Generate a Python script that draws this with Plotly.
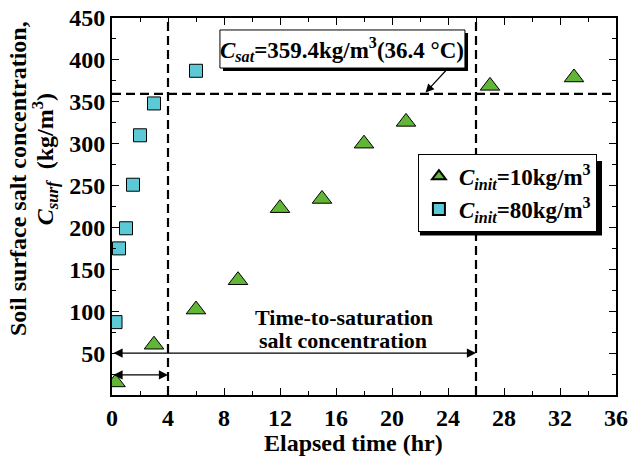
import plotly.graph_objects as go

# Data
t_init10 = [0.25, 3, 6, 9, 12, 15, 18, 21, 27, 33]
c_init10 = [15, 60, 102, 137, 223, 234, 300, 326, 369, 379]
t_init80 = [0.25, 0.5, 1.0, 1.5, 2.0, 3.0, 6.0]
c_init80 = [87, 175, 199, 251, 310, 348, 387]
c_sat = 359.4
t_sat_80 = 4
t_sat_10 = 26
x_ticks = [0, 4, 8, 12, 16, 20, 24, 28, 32, 36]
y_ticks = [50, 100, 150, 200, 250, 300, 350, 400, 450]

FONT = "Liberation Serif"

fig = go.Figure()
fig.add_trace(go.Scatter(
    x=t_init10, y=c_init10, mode="markers",
    name="<b><i>C<sub>init</sub></i>=10kg/m<sup>3</sup></b>",
    marker=dict(symbol="triangle-up", size=17, color="#62B635",
                line=dict(color="black", width=1))))
fig.add_trace(go.Scatter(
    x=t_init80, y=c_init80, mode="markers",
    name="<b><i>C<sub>init</sub></i>=80kg/m<sup>3</sup></b>",
    marker=dict(symbol="square", size=13, color="#5BC9D6",
                line=dict(color="black", width=1))))

dash = dict(color="black", width=2.2, dash="9px,5px")
shapes = [
    dict(type="line", xref="x", yref="y", x0=0, x1=36, y0=c_sat, y1=c_sat, line=dash),
    dict(type="line", xref="x", yref="y", x0=t_sat_80, x1=t_sat_80, y0=0, y1=450, line=dash),
    dict(type="line", xref="x", yref="y", x0=t_sat_10, x1=t_sat_10, y0=0, y1=450, line=dash),
    # Csat box shadow and box
    dict(type="rect", xref="x", yref="y", x0=7.93, x1=25.43, y0=386.7, y1=432.1,
         fillcolor="black", line=dict(width=0), layer="above"),
    dict(type="rect", xref="x", yref="y", x0=7.71, x1=25.21, y0=390.3, y1=435.7,
         fillcolor="white", line=dict(color="black", width=1), layer="above"),
    # shadow of legend
    dict(type="rect", xref="paper", yref="paper", x0=0.611, x1=0.9722, y0=0.423, y1=0.621,
         fillcolor="black", line=dict(width=0), layer="below"),
]

annotations = [
    dict(x=t_sat_10, y=50, ax=0, ay=50, xref="x", yref="y", axref="x", ayref="y",
         text="", showarrow=True, arrowhead=2, startarrowhead=2, arrowside="end+start",
         arrowsize=1.4, startarrowsize=1.4, arrowwidth=1.3, arrowcolor="black"),
    dict(x=t_sat_80, y=24, ax=0, ay=24, xref="x", yref="y", axref="x", ayref="y",
         text="", showarrow=True, arrowhead=2, startarrowhead=2, arrowside="end+start",
         arrowsize=1.4, startarrowsize=1.4, arrowwidth=1.3, arrowcolor="black"),
    dict(x=16.55, y=92, xref="x", yref="y", showarrow=False,
         text="<b>Time-to-saturation</b>",
         font=dict(family=FONT, size=22, color="black")),
    dict(x=16.5, y=65, xref="x", yref="y", showarrow=False,
         text="<b>salt concentration</b>",
         font=dict(family=FONT, size=22, color="black")),
    dict(x=22.4, y=361, ax=24.0, ay=390, xref="x", yref="y", axref="x", ayref="y",
         text="", showarrow=True, arrowhead=2, arrowsize=1.4, arrowwidth=1.2,
         arrowcolor="black"),
    dict(x=16.46, y=412, xref="x", yref="y", showarrow=False,
         text="<b><i>C<sub>sat</sub></i>=359.4kg/m<sup>3</sup>(36.4 °C)</b>",
         font=dict(family=FONT, size=23, color="black")),
    # axis titles
    dict(x=0.479, y=-0.127, xref="paper", yref="paper", showarrow=False,
         xanchor="center", yanchor="middle",
         text="<b>Elapsed time (hr)</b>", font=dict(family=FONT, size=24, color="black")),
    dict(x=-0.1865, y=0.573, xref="paper", yref="paper", showarrow=False, textangle=-90,
         xanchor="center", yanchor="middle",
         text="<b>Soil surface salt concentration,</b>",
         font=dict(family=FONT, size=24, color="black")),
    dict(x=-0.133, y=0.625, xref="paper", yref="paper", showarrow=False, textangle=-90,
         xanchor="center", yanchor="middle",
         text="<b><i>C<sub>surf</sub></i>  (kg/m<sup>3</sup>)</b>",
         font=dict(family=FONT, size=24, color="black")),
]

fig.update_layout(
    width=630, height=459,
    margin=dict(l=112, r=14, t=18, b=64),
    paper_bgcolor="white", plot_bgcolor="white",
    font=dict(family=FONT, size=22, color="black"),
    showlegend=True,
    legend=dict(x=0.607, y=0.64, xanchor="left", yanchor="top",
                bgcolor="white", bordercolor="black", borderwidth=1,
                font=dict(family=FONT, size=23, color="black"),
                tracegroupgap=0, itemsizing="constant", itemwidth=30),
    shapes=shapes, annotations=annotations,
)
fig.update_xaxes(
    range=[0, 36], tickvals=x_ticks, ticktext=[f"<b>{v}</b>" for v in x_ticks],
    ticks="inside", ticklen=7, tickwidth=1.2, tickcolor="black",
    minor=dict(dtick=2, ticks="inside", ticklen=4, tickcolor="black"),
    showline=True, linecolor="black", linewidth=2, mirror="ticks",
    showgrid=False, zeroline=False, automargin=False,
    tickfont=dict(family=FONT, size=24),
)
fig.update_yaxes(
    range=[0, 450], tickvals=y_ticks, ticktext=[f"<b>{v}</b>" for v in y_ticks],
    ticks="inside", ticklen=7, tickwidth=1.2, tickcolor="black",
    minor=dict(dtick=25, ticks="inside", ticklen=4, tickcolor="black"),
    showline=True, linecolor="black", linewidth=2, mirror="ticks",
    showgrid=False, zeroline=False, automargin=False,
    tickfont=dict(family=FONT, size=24),
)

fig.write_html("out.html")
